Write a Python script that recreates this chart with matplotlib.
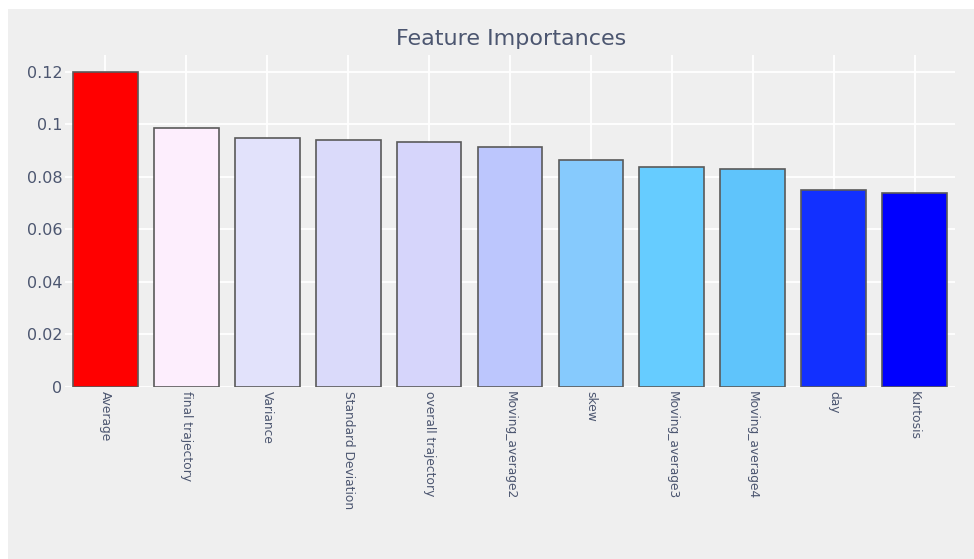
import matplotlib.pyplot as plt
from matplotlib.patches import Rectangle

features = ['Average', 'final trajectory', 'Variance', 'Standard Deviation',
            'overall trajectory', 'Moving_average2', 'skew', 'Moving_average3',
            'Moving_average4', 'day', 'Kurtosis']
importances = [0.1201, 0.0985, 0.0949, 0.0941, 0.0933, 0.0914,
               0.0862, 0.0836, 0.0828, 0.0750, 0.0739]
bar_colors = ['#ff0000', '#fdeefd', '#e2e2fb', '#dadafa', '#d6d5fb', '#bcc6fd',
              '#86cafd', '#66ccff', '#5fc4fb', '#1230ff', '#0000ff']

TEXT = '#4c5670'
BG = '#efefef'
W, H = 974, 559

fig = plt.figure(figsize=(W / 100, H / 100), dpi=100)
fig.patch.set_facecolor('white')
fig.patches.append(Rectangle((8 / W, 0), 1 - 8 / W, 1 - 9 / H, transform=fig.transFigure,
                             facecolor=BG, edgecolor='none', zorder=-10))

ax = fig.add_axes([65 / W, 1 - 386.7 / H, 890 / W, (386.7 - 55) / H])
ax.set_facecolor(BG)

x = range(len(features))
ax.bar(x, importances, width=0.8, color=bar_colors, edgecolor='#5a5a5a', linewidth=1.2, zorder=3)

ax.set_xlim(-0.5, len(features) - 0.5)
ax.set_ylim(0, 0.1264)
ax.set_yticks([0, 0.02, 0.04, 0.06, 0.08, 0.1, 0.12])
ax.set_yticklabels(['0', '0.02', '0.04', '0.06', '0.08', '0.1', '0.12'])
ax.set_xticks(list(x))
ax.set_xticklabels(features, rotation=-90, va='top', ha='center')

ax.grid(True, color='white', linewidth=1.3, zorder=0)
ax.set_axisbelow(True)
for s in ax.spines.values():
    s.set_visible(False)
ax.tick_params(axis='both', length=0, colors=TEXT)
ax.tick_params(axis='y', labelsize=11.5, pad=2)
ax.tick_params(axis='x', labelsize=8.8, pad=3)

fig.text(511 / W, 1 - 39 / H, 'Feature Importances', ha='center', va='center',
         fontsize=16, color=TEXT)

fig.savefig('out.png', dpi=100)
